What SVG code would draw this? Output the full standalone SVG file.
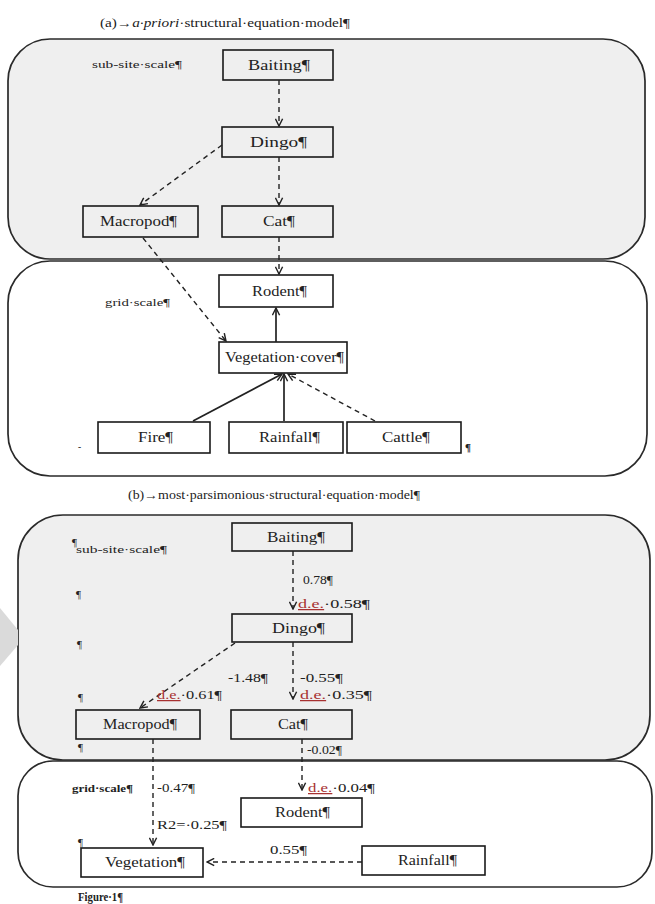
<svg xmlns="http://www.w3.org/2000/svg" width="655" height="904" viewBox="0 0 655 904">
<defs>
<style>
text{font-family:"Liberation Serif","Times New Roman",serif;fill:#222}
.area-g{fill:#efefef;stroke:#2a2a2a;stroke-width:1.7}
.area-w{fill:#fff;stroke:#2a2a2a;stroke-width:1.7}
.ng rect{fill:#efefef;stroke:#1a1a1a;stroke-width:1.6}
.nw rect{fill:#fff;stroke:#1a1a1a;stroke-width:1.6}
.nt{font-size:14px}
.lb{font-size:12.5px}
.sc{font-size:9.5px}
.ti{font-size:12px}
.pm{font-size:11px}
.de{fill:#a83232;text-decoration:underline}
.dash{fill:none;stroke:#222;stroke-width:1.4;stroke-dasharray:5 4;marker-end:url(#ah)}
.solid{fill:none;stroke:#222;stroke-width:1.7;marker-end:url(#ah)}
</style>
<marker id="ah" viewBox="0 0 10 10" refX="9" refY="5" markerWidth="9" markerHeight="9" markerUnits="userSpaceOnUse" orient="auto">
<path d="M1,1 L9,5 L1,9" fill="none" stroke="#222" stroke-width="1.6"/>
</marker>
</defs>
<rect width="655" height="904" fill="#fff"/>

<!-- panel (a) -->
<text class="ti" x="100" y="27" textLength="250" lengthAdjust="spacingAndGlyphs">(a)→<tspan font-style="italic">a·priori</tspan>·structural·equation·model¶</text>
<rect class="area-g" x="8" y="39" width="637" height="220" rx="42"/>
<rect class="area-w" x="8" y="261" width="639" height="215" rx="42"/>
<text class="sc" x="92" y="68" textLength="90" lengthAdjust="spacingAndGlyphs">sub-site·scale¶</text>
<text class="sc" x="105" y="306" textLength="65" lengthAdjust="spacingAndGlyphs">grid·scale¶</text>
<text class="pm" x="465" y="451" font-weight="bold">¶</text>
<text class="sc" x="78" y="450" fill="#888">-</text>

<g id="a-baiting" class="ng"><rect x="223" y="50" width="110" height="30"/><text class="nt" x="248" y="70" textLength="62" lengthAdjust="spacingAndGlyphs">Baiting¶</text></g>
<g id="a-dingo" class="ng"><rect x="222" y="127" width="111" height="30"/><text class="nt" x="250" y="147" textLength="57" lengthAdjust="spacingAndGlyphs">Dingo¶</text></g>
<g id="a-macropod" class="ng"><rect x="83" y="206" width="115" height="31"/><text class="nt" x="100" y="226" textLength="77" lengthAdjust="spacingAndGlyphs">Macropod¶</text></g>
<g id="a-cat" class="ng"><rect x="222" y="206" width="111" height="31"/><text class="nt" x="263" y="226" textLength="32" lengthAdjust="spacingAndGlyphs">Cat¶</text></g>
<g id="a-rodent" class="nw"><rect x="219" y="275" width="114" height="32"/><text class="nt" x="252" y="296" textLength="55" lengthAdjust="spacingAndGlyphs">Rodent¶</text></g>
<g id="a-vegcover" class="nw"><rect x="219" y="342" width="128" height="31"/><text class="nt" x="225" y="362" textLength="119" lengthAdjust="spacingAndGlyphs">Vegetation·cover¶</text></g>
<g id="a-fire" class="nw"><rect x="98" y="422" width="112" height="31"/><text class="nt" x="138" y="442" textLength="35" lengthAdjust="spacingAndGlyphs">Fire¶</text></g>
<g id="a-rainfall" class="nw"><rect x="229" y="422" width="114" height="31"/><text class="nt" x="259" y="442" textLength="61" lengthAdjust="spacingAndGlyphs">Rainfall¶</text></g>
<g id="a-cattle" class="nw"><rect x="347" y="422" width="114" height="31"/><text class="nt" x="382" y="442" textLength="48" lengthAdjust="spacingAndGlyphs">Cattle¶</text></g>

<!-- panel (b) -->
<text class="ti" x="128" y="499" textLength="292" lengthAdjust="spacingAndGlyphs">(b)→most·parsimonious·structural·equation·model¶</text>
<rect class="area-g" x="18" y="515" width="632" height="245" rx="45"/>
<rect class="area-w" x="18" y="761" width="634" height="126" rx="35"/>
<polygon points="0,608 18,630 18,645 0,666" fill="#dadada"/>
<text class="pm" x="72" y="546">¶</text>
<text class="sc" x="76" y="553" textLength="91" lengthAdjust="spacingAndGlyphs">sub-site·scale¶</text>
<text class="pm" x="76" y="598">¶</text>
<text class="pm" x="77" y="648">¶</text>
<text class="pm" x="78" y="701">¶</text>
<text class="pm" x="78" y="751">¶</text>
<text class="sc" x="72" y="792" textLength="61" lengthAdjust="spacingAndGlyphs" font-weight="bold">grid·scale¶</text>
<text class="pm" x="78" y="846">¶</text>

<g id="b-baiting" class="ng"><rect x="232" y="523" width="120" height="28"/><text class="nt" x="267" y="542" textLength="58" lengthAdjust="spacingAndGlyphs">Baiting¶</text></g>
<g id="b-dingo" class="ng"><rect x="232" y="614" width="120" height="28"/><text class="nt" x="272" y="633" textLength="53" lengthAdjust="spacingAndGlyphs">Dingo¶</text></g>
<g id="b-macropod" class="ng"><rect x="76" y="710" width="124" height="29"/><text class="nt" x="103" y="729" textLength="74" lengthAdjust="spacingAndGlyphs">Macropod¶</text></g>
<g id="b-cat" class="ng"><rect x="231" y="710" width="121" height="29"/><text class="nt" x="278" y="729" textLength="30" lengthAdjust="spacingAndGlyphs">Cat¶</text></g>
<g id="b-rodent" class="nw"><rect x="241" y="798" width="121" height="29"/><text class="nt" x="275" y="817" textLength="55" lengthAdjust="spacingAndGlyphs">Rodent¶</text></g>
<g id="b-vegetation" class="nw"><rect x="81" y="848" width="122" height="29"/><text class="nt" x="105" y="867" textLength="80" lengthAdjust="spacingAndGlyphs">Vegetation¶</text></g>
<g id="b-rainfall" class="nw"><rect x="362" y="846" width="123" height="29"/><text class="nt" x="398" y="865" textLength="59" lengthAdjust="spacingAndGlyphs">Rainfall¶</text></g>

<g id="connectors">
<path class="dash" d="M279,80 L279,126"/>
<path class="dash" d="M222,145 L140,205"/>
<path class="dash" d="M279,157 L279,205"/>
<path class="dash" d="M143,238 L226,341"/>
<path class="dash" d="M279,237 L279,274"/>
<path class="solid" d="M276,342 L276,308"/>
<path class="solid" d="M193,421 L282,374"/>
<path class="solid" d="M284,421 L284,374"/>
<path class="dash" d="M375,421 L288,374"/>

<path class="dash" d="M293,551 L293,609"/>
<path class="dash" d="M235,643 L140,708"/>
<path class="dash" d="M293,642 L293,699"/>
<path class="dash" d="M302,739 L302,790"/>
<path class="dash" d="M153,739 L153,845"/>
<path class="dash" d="M362,862 L207,862"/>
</g>

<g id="labels">
<text class="lb" x="303" y="584" textLength="30" lengthAdjust="spacingAndGlyphs">0.78¶</text>
<text class="lb" x="298" y="608" textLength="72" lengthAdjust="spacingAndGlyphs"><tspan class="de">d.e.</tspan>·0.58¶</text>
<text class="lb" x="228" y="682" textLength="40" lengthAdjust="spacingAndGlyphs">-1.48¶</text>
<text class="lb" x="300" y="682" textLength="43" lengthAdjust="spacingAndGlyphs">-0.55¶</text>
<text class="lb" x="157" y="699" textLength="65" lengthAdjust="spacingAndGlyphs"><tspan class="de">d.e.</tspan>·0.61¶</text>
<text class="lb" x="300" y="699" textLength="72" lengthAdjust="spacingAndGlyphs"><tspan class="de">d.e.</tspan>·0.35¶</text>
<text class="lb" x="307" y="754" textLength="35" lengthAdjust="spacingAndGlyphs">-0.02¶</text>
<text class="lb" x="157" y="792" textLength="38" lengthAdjust="spacingAndGlyphs">-0.47¶</text>
<text class="lb" x="308" y="792" textLength="67" lengthAdjust="spacingAndGlyphs"><tspan class="de">d.e.</tspan>·0.04¶</text>
<text class="lb" x="157" y="829" textLength="70" lengthAdjust="spacingAndGlyphs">R2=·0.25¶</text>
<text class="lb" x="270" y="854" textLength="37" lengthAdjust="spacingAndGlyphs">0.55¶</text>
<text x="78" y="901" font-size="12.5" textLength="45" lengthAdjust="spacingAndGlyphs" font-weight="bold">Figure·1¶</text>
</g>
</svg>
